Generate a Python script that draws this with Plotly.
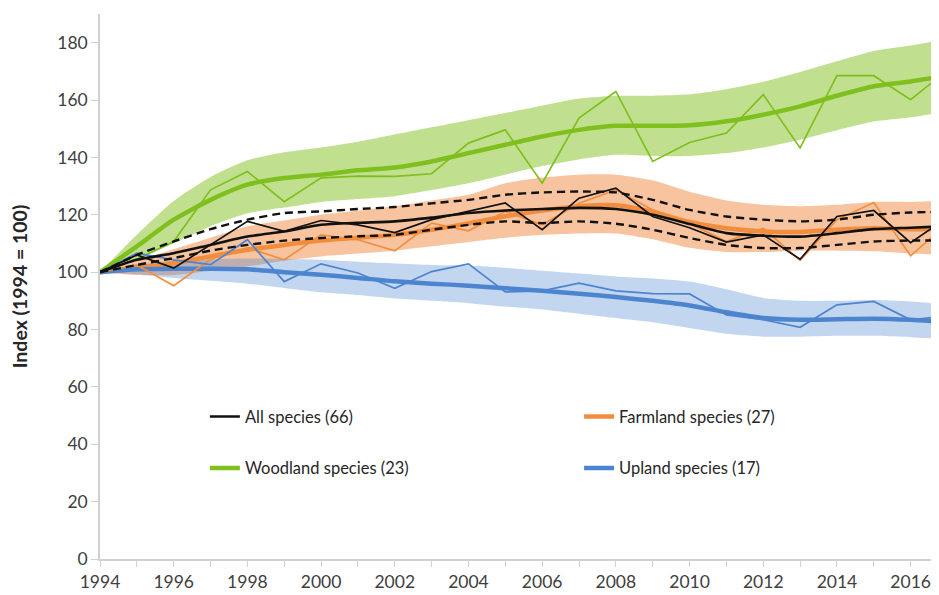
import plotly.graph_objects as go

years = list(range(1994, 2018))

# All species (66)
all_raw = [100, 106, 101.4, 109.5, 117.7, 114.2, 118, 116.5, 113.8, 118.3, 121.2, 124.1,
           114.8, 125.8, 129.3, 119.4, 115.5, 110.5, 113, 104.5, 119.4, 121.5, 110.3, 119]
all_smooth = [100, 104.3, 106.6, 109.5, 112.4, 114.2, 116.5, 117.2, 117.7, 119, 120.6, 121.5,
              122, 122.4, 122, 120, 116.8, 113.6, 112.7, 112.4, 113.6, 115, 115.5, 116]
all_upper = [100, 106, 110.7, 115, 118.3, 120.6, 121.2, 122, 122.7, 124, 125.2, 127,
             127.8, 128.1, 127.8, 125.2, 121.7, 119.4, 118.3, 117.7, 118.3, 120, 120.8, 121]
all_lower = [100, 102.5, 104.9, 107.5, 109.5, 111, 111.9, 112.5, 113, 114.8, 116.5, 117.7,
             117.1, 117.7, 116.9, 114.8, 111.9, 109.5, 108.4, 108.4, 109.5, 110.7, 111, 111]

# Farmland species (27)
farm_raw = [100, 102.5, 95.3, 104.5, 108.5, 104.3, 113, 111.3, 107.4, 117.1, 114.4, 121.2,
            116.5, 124, 128.7, 121.7, 117, 110.7, 115.3, 104.1, 118.3, 124.3, 105.7, 117]
farm_smooth = [100, 101.5, 103.1, 105.5, 107.8, 109.5, 111, 112, 113, 114.8, 117, 119.5,
               121.5, 123, 123.3, 121, 117.5, 115.3, 114.2, 114, 114.8, 115.3, 115, 115]
farm_upper = [100, 104, 108, 112, 116, 118, 120, 121.5, 123, 125, 127, 131,
              133, 134, 134, 132, 128, 125, 123.5, 123, 123.5, 124.5, 124.5, 125]
farm_lower = [100, 99, 99, 100.5, 102, 104, 105.5, 106.5, 107.5, 109, 110.5, 112,
              113, 113.5, 113.5, 111.5, 108.5, 107, 107, 107.5, 107.5, 107.3, 106.5, 106]

# Woodland species (23)
wood_raw = [100, 104.5, 110.7, 128.7, 135.1, 124.6, 132.9, 133.5, 133.4, 134.3, 145, 149.6,
            131, 153.7, 163, 138.6, 145.2, 148.5, 161.9, 143.3, 168.5, 168.5, 160.1, 170.5]
wood_smooth = [100, 109, 118.3, 125.2, 130.5, 132.8, 134, 135.5, 136.5, 138.6, 141.5, 144.4,
               147.3, 149.6, 151, 151, 151.2, 152.6, 154.9, 157.8, 161.5, 164.8, 166.5, 168.5]
wood_upper = [100, 113, 124.8, 133.2, 139, 141.8, 143.5, 145.5, 148, 150.5, 153, 155.5,
              158, 160.5, 161.5, 161.5, 162, 163.8, 166.4, 169.8, 173.5, 177.1, 179, 181.5]
wood_lower = [100, 104.5, 110, 116, 120.5, 122.5, 124.5, 125.5, 126.5, 128.6, 131, 134,
              137, 139.3, 140.9, 140.5, 140.5, 141.5, 143.5, 146.2, 149.5, 152.5, 154, 156]

# Upland species (17)
up_raw = [100, 106.6, 104.3, 102.6, 111.3, 96.7, 102.9, 99.7, 94.4, 100.2, 102.9, 93.1,
          93.5, 96.2, 93.5, 92.5, 92.4, 85.1, 83.4, 80.8, 88.6, 89.8, 83.4, 84.7]
up_smooth = [100, 101, 101.2, 101.2, 101, 100, 99.1, 98, 96.8, 96, 95.3, 94.4,
             93.5, 92.5, 91.3, 90, 88.4, 86, 84, 83.4, 83.6, 83.8, 83.4, 82.6]
up_upper = [100, 102.5, 104, 104.5, 104.8, 104.6, 104.3, 103.6, 103, 102.5, 102.3, 101.5,
            100.5, 99.5, 98.5, 97.8, 96.7, 94, 91, 90, 90, 90.3, 89.8, 88.8]
up_lower = [100, 99.3, 98, 97, 96, 94.5, 93, 92, 90.8, 90, 89.2, 88,
            87, 85.5, 84, 82.5, 80.5, 78.5, 77.5, 77.5, 77.8, 77.8, 77.3, 76.6]

x_tick_labels = [str(y) for y in range(1994, 2017, 2)]

GREEN = "#7fbf1e"
ORANGE = "#f28d3e"
BLUE = "#4d84cf"
BLACK = "#111111"

fig = go.Figure()


def band(lower, upper, fill):
    fig.add_trace(go.Scatter(x=years, y=lower, mode="lines", line=dict(width=0, shape="spline", smoothing=0.6),
                             showlegend=False, hoverinfo="skip"))
    fig.add_trace(go.Scatter(x=years, y=upper, mode="lines", line=dict(width=0, shape="spline", smoothing=0.6),
                             fill="tonexty", fillcolor=fill, showlegend=False, hoverinfo="skip"))


band(wood_lower, wood_upper, "rgba(125,190,20,0.48)")
band(farm_lower, farm_upper, "rgba(240,130,50,0.47)")
band(up_lower, up_upper, "rgba(70,130,210,0.33)")

# Smoothed trends
fig.add_trace(go.Scatter(x=years, y=wood_smooth, mode="lines", name="Woodland species (23)",
                         line=dict(color=GREEN, width=4.5, shape="spline", smoothing=0.6),
                         legend="legend", legendgroup="wood", legendrank=2))
fig.add_trace(go.Scatter(x=years, y=farm_smooth, mode="lines", name="Farmland species (27)",
                         line=dict(color=ORANGE, width=4.5, shape="spline", smoothing=0.6),
                         legend="legend2", legendgroup="farm", legendrank=1))
fig.add_trace(go.Scatter(x=years, y=up_smooth, mode="lines", name="Upland species (17)",
                         line=dict(color=BLUE, width=4.5, shape="spline", smoothing=0.6),
                         legend="legend2", legendgroup="up", legendrank=2))

# Raw indices
fig.add_trace(go.Scatter(x=years, y=wood_raw, mode="lines", line=dict(color=GREEN, width=1.7),
                         showlegend=False))
fig.add_trace(go.Scatter(x=years, y=farm_raw, mode="lines", line=dict(color=ORANGE, width=1.7),
                         showlegend=False))
fig.add_trace(go.Scatter(x=years, y=up_raw, mode="lines", line=dict(color=BLUE, width=1.7),
                         showlegend=False))

# All species
fig.add_trace(go.Scatter(x=years, y=all_upper, mode="lines",
                         line=dict(color=BLACK, width=2.4, dash="8px,5px", shape="spline", smoothing=0.6),
                         showlegend=False))
fig.add_trace(go.Scatter(x=years, y=all_lower, mode="lines",
                         line=dict(color=BLACK, width=2.4, dash="8px,5px", shape="spline", smoothing=0.6),
                         showlegend=False))
fig.add_trace(go.Scatter(x=years, y=all_raw, mode="lines", line=dict(color=BLACK, width=1.7),
                         showlegend=False))
fig.add_trace(go.Scatter(x=years, y=all_smooth, mode="lines", name="All species (66)",
                         line=dict(color=BLACK, width=2.6, shape="spline", smoothing=0.6),
                         legend="legend", legendgroup="all", legendrank=1))

font_main = "Lato, 'Open Sans', sans-serif"
legend_common = dict(orientation="v", bgcolor="rgba(0,0,0,0)", borderwidth=0,
                     font=dict(family=font_main, size=16.5, color="#262626"),
                     tracegroupgap=27, itemwidth=30, xanchor="left", yanchor="top",
                     traceorder="grouped")

# The page body has an 8px margin, so the figure is sized to fill the rest of the window.
fig.update_layout(
    width=931, height=587,
    margin=dict(l=92, r=0, t=6, b=36),
    paper_bgcolor="white", plot_bgcolor="white",
    font=dict(family=font_main, size=17, color="#404040"),
    showlegend=True,
    legend=dict(x=0.125, y=0.293, **legend_common),
    legend2=dict(x=0.571, y=0.293, **legend_common),
    xaxis=dict(range=[1994, 2016.77], tickmode="array", automargin=False,
               tickvals=[int(t) for t in x_tick_labels], ticktext=x_tick_labels,
               showgrid=False, zeroline=False, showline=True, linecolor="#d0d0d0", linewidth=1.5,
               ticks="outside", ticklen=6, tickcolor="#d0d0d0", tickwidth=1,
               minor=dict(dtick=1, tick0=1994, ticks="outside", ticklen=6, tickcolor="#d0d0d0", showgrid=False),
               tickfont=dict(size=17.5, color="#404040")),
    yaxis=dict(range=[0, 190], tick0=0, dtick=20, automargin=False,
               showgrid=False, zeroline=False, showline=True, linecolor="#d0d0d0", linewidth=1.5,
               ticks="outside", ticklen=7, tickcolor="#d0d0d0",
               tickfont=dict(size=17.5, color="#404040"),
               title=dict(text="<b>Index (1994 = 100)</b>", standoff=34,
                          font=dict(size=19.5, color="#262626"))),
)

fig.write_html("out.html")
